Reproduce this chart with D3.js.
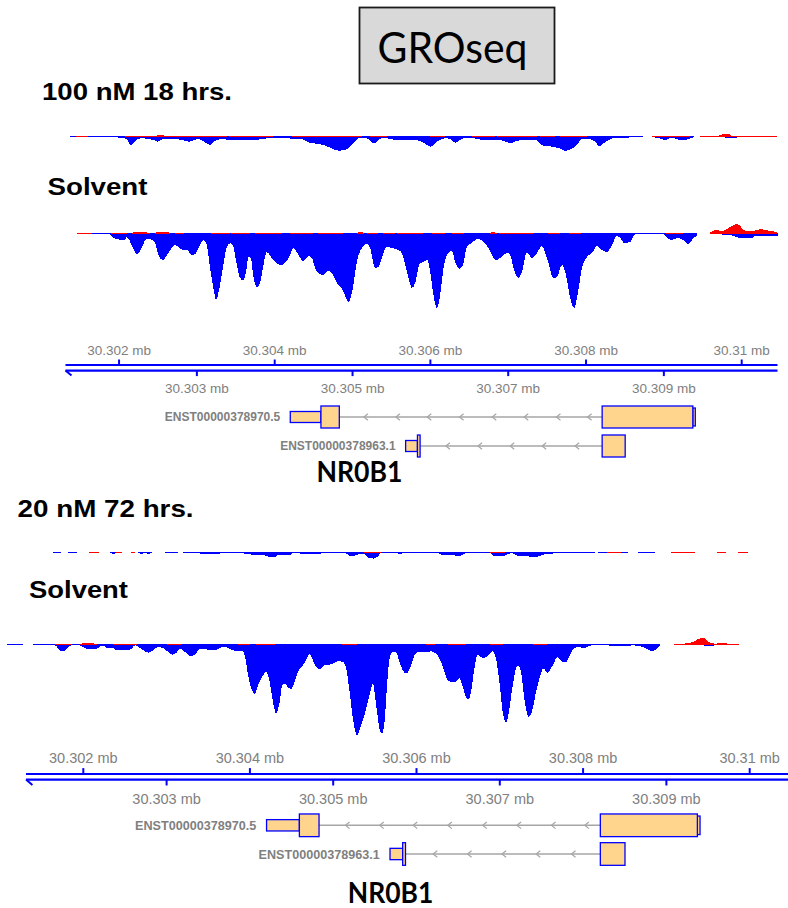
<!DOCTYPE html>
<html>
<head>
<meta charset="utf-8">
<script src="https://cdn.jsdelivr.net/npm/d3@7"></script>
<style>
  html, body { margin: 0; padding: 0; background: #fff; }
  svg { display: block; }
</style>
</head>
<body>
<svg id="fig" width="788" height="908"></svg>
<script>
// Positions are kb offsets from chrX:30,300,000 (30.3 Mb); signals are strand coverage.
const ORIGIN_MB = 30.3;
const axisDomain = [1.312, 10.46];
const ticksAbove = [2, 4, 6, 8, 10];
const ticksBelow = [3, 5, 7, 9];
const tickLabelsAbove = ["30.302 mb", "30.304 mb", "30.306 mb", "30.308 mb", "30.31 mb"];
const tickLabelsBelow = ["30.303 mb", "30.305 mb", "30.307 mb", "30.309 mb"];

// NR0B1 transcripts
const txIds = ["ENST00000378970.5", "ENST00000378963.1"];
const txUTR = [[[4.20, 4.594]], [[5.682, 5.834]]];
const txCDS = [[[4.594, 4.83], [8.207, 9.372]], [[5.834, 5.868], [8.207, 8.503]]];
const txEnd5 = [[[9.372, 9.404]], []];
const txArrows = [[5.147, 5.558, 5.96, 6.375, 6.795, 7.206, 7.62, 8.02],
                  [6.20, 6.612, 7.026, 7.436, 7.86]];

// ---- 100 nM 18 hrs. ----
const treat100Minus = [
  [1.373,0.7],[1.689,0.7],[1.928,1.3],[2.05,2],[2.10,3],[2.15,9.5],[2.22,4],[2.29,2.3],[2.40,3.3],
  [2.46,4.5],[2.50,5.7],[2.55,3.5],[2.62,2.5],[2.73,3.3],[2.82,4],[2.90,5.7],[2.97,4],[3.03,3],
  [3.10,6],[3.17,9],[3.24,4.5],[3.33,3],[3.45,4.3],[3.55,4.3],[3.62,3.5],[3.80,3.5],[3.90,2.3],
  [3.99,2],[4.20,2.5],[4.35,3],[4.45,7],[4.58,8],[4.70,11.3],[4.82,14.7],[4.94,13],[5.00,8],
  [5.08,2.3],[5.18,2.5],[5.28,7.3],[5.36,2.5],[5.42,2],[5.55,4],[5.80,4],[5.90,6],[6.00,10.7],
  [6.08,6],[6.19,2.3],[6.25,3],[6.32,6.7],[6.40,3],[6.50,1.5],[6.60,3],[6.70,4],[6.85,4],[6.95,5],
  [7.03,7.3],[7.10,5],[7.21,4],[7.35,4],[7.45,9.7],[7.57,10.7],[7.68,13],[7.73,14.7],[7.80,13.5],
  [7.87,10],[7.95,3],[8.05,3],[8.12,6],[8.17,10],[8.25,6],[8.34,2.5],[8.40,2],[8.55,1.5],[8.73,1],
  [8.74,null],
  [8.85,1],[8.95,2.5],[9.02,4],[9.10,1.5],[9.18,3.5],[9.24,4],[9.32,3],[9.387,1],
  [9.39,null],
  [9.78,0.3],[9.80,2.3],[9.93,2.3],[9.95,0.3]
];
const treat100Plus = [
  [1.447,1],[1.602,1],[1.61,null],
  [2.077,1],[2.48,1],[2.50,2.3],[2.56,2.3],[2.58,1],[3.388,1],[3.39,null],
  [3.414,1],[3.979,1],[3.98,null],
  [4.224,1],[5.123,1],[5.13,null],
  [5.226,1],[5.445,1],[5.45,null],
  [5.997,1],[6.190,1],[6.20,null],
  [6.537,1],[6.833,1],[6.84,null],
  [6.859,1],[7.373,1],[7.38,null],
  [7.411,1],[7.604,1],[7.61,null],
  [7.668,1],[8.015,1],[8.02,null],
  [8.85,1],[9.339,1],[9.34,null],
  [9.46,1],[9.70,1],[9.75,2.7],[9.84,2.7],[9.88,1],[10.458,1]
];

// ---- Solvent (upper panel) ----
const solventAMinus = [
  [1.649,1],[1.884,1.5],[1.927,5],[2.077,7],[2.099,4],[2.163,12],[2.227,21],[2.291,15],[2.347,6],
  [2.398,6],[2.463,10],[2.506,22],[2.561,27],[2.634,20],[2.720,12],[2.763,14],[2.827,17],[2.870,17],
  [2.934,22],[2.977,21],[3.020,15],[3.084,7],[3.127,12],[3.170,35],[3.212,55],[3.247,67],[3.290,55],
  [3.341,32],[3.384,14],[3.436,10],[3.470,14],[3.513,32],[3.555,45],[3.590,47],[3.632,39],[3.662,24],
  [3.693,25],[3.727,44],[3.770,54],[3.812,50],[3.855,32],[3.898,19],[3.962,25],[4.005,29],[4.069,32],
  [4.134,30],[4.198,22],[4.241,15],[4.305,22],[4.369,28],[4.433,23],[4.477,25],[4.519,35],[4.562,40],
  [4.626,42],[4.690,38],[4.734,40],[4.798,50],[4.875,57],[4.948,69],[5.004,55],[5.055,29],[5.098,18],
  [5.184,11],[5.226,15],[5.290,35],[5.333,34],[5.397,20],[5.441,14],[5.505,15],[5.612,18],[5.654,25],
  [5.719,45],[5.762,55],[5.805,50],[5.860,31],[5.912,29],[5.960,27],[5.997,39],[6.040,62],[6.083,75],
  [6.126,62],[6.169,35],[6.233,20],[6.276,18],[6.319,29],[6.374,36],[6.418,32],[6.469,14],[6.512,11],
  [6.618,6],[6.683,9],[6.747,15],[6.790,22],[6.846,27],[6.897,25],[6.983,20],[7.026,22],[7.068,35],
  [7.133,45],[7.176,39],[7.240,19],[7.304,25],[7.369,20],[7.433,13],[7.497,25],[7.583,45],[7.626,44],
  [7.690,32],[7.733,39],[7.797,65],[7.848,75],[7.891,62],[7.947,35],[8.011,24],[8.076,20],[8.140,13],
  [8.204,17],[8.269,19],[8.333,12],[8.397,3],[8.440,5],[8.491,10],[8.568,9],[8.632,1],[8.868,1],
  [8.997,1],[9.040,5],[9.104,7],[9.168,5],[9.253,7],[9.318,11],[9.382,5],[9.425,3],
  [9.43,null],
  [9.596,0.6],[9.740,0.6],[9.76,2.3],[9.86,2.3],[9.90,3],[9.98,5],[10.14,5],[10.17,3],[10.46,3]
];
const solventAPlus = [
  [1.464,1],[1.648,1],[1.65,null],
  [1.898,1],[2.10,1],[2.11,null],
  [2.16,1],[2.20,2],[2.24,2.5],[2.30,2],[2.40,1],[2.41,null],
  [2.46,1],[2.50,2.3],[2.62,2.3],[2.65,1],[2.66,null],
  [2.72,1.3],[2.83,1.3],[2.84,null],
  [3.18,1],[3.42,1],[3.43,null],
  [3.44,1],[3.68,1],[3.69,null],
  [3.75,1],[4.10,1],[4.11,null],
  [4.20,1],[4.49,1],[4.50,null],
  [4.55,1],[4.88,1],[4.89,null],
  [5.06,1],[5.10,2],[5.15,1],[5.16,null],
  [5.18,1],[5.33,1],[5.34,null],
  [5.39,1],[5.54,1],[5.55,null],
  [5.57,1],[5.90,1],[5.91,null],
  [6.02,1],[6.19,1],[6.20,null],
  [6.28,1],[6.43,1],[6.44,null],
  [6.76,1],[6.80,1.8],[6.85,1],[6.86,null],
  [6.88,1],[7.33,1],[7.34,null],
  [7.51,1],[7.66,1],[7.67,null],
  [7.78,1],[7.93,1],[7.94,null],
  [9.03,1],[9.24,1],[9.25,null],
  [9.596,1.5],[9.661,4],[9.747,3],[9.811,5],[9.875,8],[9.940,10],[10.004,6],[10.047,3],[10.153,3],
  [10.239,5],[10.303,4],[10.368,3],[10.454,2]
];

// ---- 20 nM 72 hrs. ----
const treat20Minus = [
  [1.634,1],[1.737,1],[1.74,null],
  [1.822,1],[1.926,1],[1.93,null],
  [2.068,0.7],[2.183,0.7],[2.19,null],
  [2.326,1],[2.35,1.7],[2.38,1.7],[2.40,1],[2.464,1],[2.47,null],
  [2.652,1],[2.70,1.7],[2.74,1],[2.78,1.7],[2.824,1],[2.83,null],
  [2.978,1],[3.139,1],[3.14,null],
  [3.196,1],[3.339,1],[3.425,1.7],[3.596,1.7],[3.740,1],[3.883,1],[3.95,1.7],[3.997,2],[4.025,3],
  [4.168,3],[4.197,4],[4.254,5],[4.312,4.5],[4.339,3],[4.40,3.3],[4.483,3],[4.512,1],[4.54,1.3],
  [4.712,1.7],[4.826,1.7],[4.912,1],[5.14,1],[5.20,3.7],[5.255,3.7],[5.31,2.3],[5.369,1.5],
  [5.427,6],[5.484,6.5],[5.541,4],[5.57,1],[5.713,1],[5.80,1.7],[5.913,1],[6.256,1],[6.30,3],
  [6.342,2.7],[6.40,3],[6.457,3.5],[6.513,4.3],[6.56,2.5],[6.60,1],[6.886,1],[6.915,3.7],[7.0,3.7],
  [7.058,3.5],[7.143,1],[7.172,2],[7.21,3.5],[7.258,4.3],[7.35,4.5],[7.429,5],[7.50,3.5],[7.543,2],
  [7.60,1.7],[7.70,1.3],[7.772,1],[8.144,1],[8.15,null],
  [8.173,1],[8.545,1],[8.55,null],
  [8.659,1],[8.860,1]
];
const treat20Plus = [
  [2.068,1],[2.183,1],[2.19,null],
  [2.394,1],[2.464,1],[2.47,null],
  [2.578,1],[2.623,1],[2.63,null],
  [5.369,1],[5.57,1],[5.58,null],
  [6.886,1],[7.058,1],[7.06,null],
  [8.287,1],[8.459,1],[8.46,null],
  [9.060,1],[9.116,1.5],[9.174,1.5],[9.230,1],[9.345,1],[9.35,null],
  [9.603,1],[9.717,1],[9.72,null],
  [9.860,1],[9.975,1]
];

// ---- Solvent (lower panel) ----
const solventBMinus = [
  [1.088,1],[1.272,1],[1.28,null],
  [1.400,1],[1.659,1.3],[1.719,6.3],[1.759,7.3],[1.799,5.3],[1.839,2],[1.879,1.3],[1.959,1.3],
  [1.999,3],[2.039,4.7],[2.159,4.7],[2.199,2.7],[2.239,1.3],[2.279,4],[2.359,4],[2.399,6.3],
  [2.519,6.3],[2.579,4.7],[2.619,1.3],[2.659,2.7],[2.719,6.3],[2.779,8.7],[2.839,6.3],[2.898,3],
  [2.958,4],[3.018,8],[3.066,10.7],[3.118,8.7],[3.158,4.7],[3.198,6.3],[3.258,10.7],[3.298,12.3],
  [3.358,8.7],[3.398,4.7],[3.458,4.7],[3.518,6.3],[3.578,6.3],[3.638,4],[3.698,3],[3.758,4.7],
  [3.838,7.3],[3.918,7.3],[3.938,11.3],[3.978,31.3],[4.018,44.7],[4.058,50.3],[4.098,41.3],
  [4.137,34.7],[4.197,28],[4.237,38],[4.277,58],[4.317,69.7],[4.357,58],[4.389,41.3],[4.429,39.7],
  [4.457,44],[4.497,44.7],[4.537,38],[4.577,28],[4.637,21.3],[4.677,15.3],[4.717,9.7],[4.757,16.3],
  [4.797,23],[4.837,25.3],[4.897,21.3],[4.977,20.3],[5.057,17.3],[5.117,18],[5.157,24.7],[5.197,48],
  [5.237,74.7],[5.285,91.3],[5.336,81.3],[5.396,64.7],[5.436,51.3],[5.476,39.7],[5.516,61.3],
  [5.556,84.7],[5.584,89.7],[5.616,78],[5.644,44.7],[5.676,14.7],[5.716,8],[5.756,8.7],[5.796,18],
  [5.836,26.3],[5.876,29.7],[5.936,21.3],[5.976,11.3],[6.016,8],[6.116,8],[6.176,7.3],[6.236,9.7],
  [6.296,18],[6.336,28],[6.376,36.3],[6.435,38],[6.483,37.3],[6.515,34],[6.555,43],[6.595,53],
  [6.623,55.3],[6.655,48],[6.695,24.7],[6.735,10.7],[6.795,14],[6.843,13],[6.875,9.7],[6.915,7.3],
  [6.955,14.7],[6.995,38],[7.035,68],[7.075,78.7],[7.115,64.7],[7.155,41.3],[7.215,21.3],[7.255,28],
  [7.295,54.7],[7.347,73],[7.395,64.7],[7.435,48],[7.475,34.7],[7.523,24.7],[7.575,28.7],[7.635,21.3],
  [7.694,13],[7.754,18],[7.794,18],[7.834,12],[7.874,6.3],[7.934,3],[8.014,4],[8.074,2],[8.134,0.7],
  [8.274,1.3],[8.514,2.3],[8.594,1.3],[8.714,3],[8.794,6.3],[8.834,7.3],[8.874,5.3],[8.922,1.5],
  [8.93,null],
  [9.453,2.3],[9.573,2.3]
];
const solventBPlus = [
  [1.66,1],[1.86,1],[1.87,null],
  [1.96,1],[2.00,1.7],[2.10,1.7],[2.16,1],[2.17,null],
  [2.36,1],[2.64,1],[2.65,null],
  [3.00,1],[3.19,1],[3.20,null],
  [3.86,1],[4.00,1],[4.01,null],
  [4.07,1],[4.30,1],[4.31,null],
  [5.10,1],[5.28,1],[5.29,null],
  [6.11,1],[6.17,1.5],[6.22,1],[6.23,null],
  [6.38,1],[6.60,1],[6.61,null],
  [6.88,1],[7.04,1],[7.05,null],
  [7.40,1],[7.57,1],[7.58,null],
  [9.093,1],[9.193,1.3],[9.273,2],[9.333,3.7],[9.393,6.3],[9.433,7],[9.473,6],[9.513,2.7],
  [9.593,1.3],[9.633,2],[9.693,2],[9.753,1],[9.873,1]
];

const BLUE = "#0000ff", RED = "#ff0000", GREY = "#808080";
const EXON_FILL = "#ffd48c", INTRON = "#a6a6a6";
const svg = d3.select("#fig");

// Minus strand hangs below the baseline; plus strand is drawn over it and
// sits on the baseline row, so a thin plus signal reads as a red line.
function drawSignal(g, x, base, minus, plus) {
  const h = d3.scaleLinear().domain([0, 100]).range([0, 100]);
  const minusArea = d3.area()
    .defined(d => d[1] !== null)
    .x(d => x(d[0])).y0(base).y1(d => base + h(d[1]))
    .curve(d3.curveMonotoneX);
  const plusArea = d3.area()
    .defined(d => d[1] !== null)
    .x(d => x(d[0])).y0(base + 1).y1(d => base + 1 - h(d[1]))
    .curve(d3.curveMonotoneX);
  g.append("path").attr("d", minusArea(minus)).attr("fill", BLUE).attr("shape-rendering", "crispEdges");
  g.append("path").attr("d", plusArea(plus)).attr("fill", RED).attr("shape-rendering", "crispEdges");
}

function drawAxis(g, x, yU, yL, s, fs) {
  const [a, b] = x.range();
  [yU, yL].forEach(y => g.append("line")
    .attr("x1", a).attr("x2", b).attr("y1", y).attr("y2", y)
    .attr("stroke", BLUE).attr("stroke-width", 2.2));
  g.append("path").attr("d", `M${a + 6 * s},${yL + 5 * s}L${a},${yL}`)
    .attr("stroke", BLUE).attr("stroke-width", 2).attr("fill", "none");
  ticksAbove.forEach((t, i) => {
    g.append("line").attr("x1", x(t)).attr("x2", x(t)).attr("y1", yU - 5.5 * s).attr("y2", yU)
      .attr("stroke", BLUE).attr("stroke-width", 2);
    g.append("text").attr("x", x(t)).attr("y", yU - 10 * s).attr("text-anchor", "middle")
      .attr("font-family", "Liberation Sans, Arial, sans-serif").attr("font-size", fs)
      .attr("fill", GREY).text(tickLabelsAbove[i]);
  });
  ticksBelow.forEach((t, i) => {
    g.append("line").attr("x1", x(t)).attr("x2", x(t)).attr("y1", yL).attr("y2", yL + 5.5 * s)
      .attr("stroke", BLUE).attr("stroke-width", 2);
    g.append("text").attr("x", x(t)).attr("y", yL + 22.5 * s).attr("text-anchor", "middle")
      .attr("font-family", "Liberation Sans, Arial, sans-serif").attr("font-size", fs)
      .attr("fill", GREY).text(tickLabelsBelow[i]);
  });
}

function drawGenes(g, x, rows, s, fs) {
  txIds.forEach((id, i) => {
    const cy = rows[i];
    const tall = 22 * s, short = 11 * s, edge = 18 * s;
    const blocks = txUTR[i].map(e => ({ e, hgt: short }))
      .concat(txEnd5[i].map(e => ({ e, hgt: edge })))
      .concat(txCDS[i].map(e => ({ e, hgt: tall })))
      .sort((p, q) => p.e[0] - q.e[0]);
    // introns between consecutive blocks
    for (let k = 0; k < blocks.length - 1; k++) {
      const end = blocks[k].e[1], next = blocks[k + 1].e[0];
      if (next > end) {
        g.append("line").attr("x1", x(end)).attr("x2", x(next)).attr("y1", cy).attr("y2", cy)
          .attr("stroke", INTRON).attr("stroke-width", 1.4);
      }
    }
    txArrows[i].forEach(p => {
      const ax = x(p);
      g.append("path").attr("d", `M${ax + 4 * s},${cy - 3.2 * s}L${ax},${cy}L${ax + 4 * s},${cy + 3.2 * s}`)
        .attr("stroke", INTRON).attr("stroke-width", 1.2).attr("fill", "none");
    });
    // thinner blocks first so coding blocks sit on top
    blocks.slice().sort((p, q) => p.hgt - q.hgt).forEach(bk => {
      g.append("rect").attr("x", x(bk.e[0])).attr("y", cy - bk.hgt / 2)
        .attr("width", x(bk.e[1]) - x(bk.e[0])).attr("height", bk.hgt)
        .attr("fill", EXON_FILL).attr("stroke", BLUE).attr("stroke-width", 1.3);
    });
    const lo = d3.min(blocks, bk => bk.e[0]);
    g.append("text").attr("x", x(lo) - 10 * s).attr("y", cy + fs * 0.36)
      .attr("text-anchor", "end").attr("font-family", "Liberation Sans, Arial, sans-serif")
      .attr("font-weight", "bold").attr("font-size", fs).attr("fill", GREY).text(id);
  });
}

function label(txt, x, y, len, size) {
  svg.append("text").attr("x", x).attr("y", y)
    .attr("font-family", "Liberation Sans, Arial, sans-serif").attr("font-weight", "bold")
    .attr("font-size", size).attr("fill", "#000")
    .attr("textLength", len).attr("lengthAdjust", "spacingAndGlyphs").text(txt);
}

function geneName(cx, y, len) {
  svg.append("text").attr("x", cx - len / 2).attr("y", y)
    .attr("font-family", "Lato, 'Open Sans', sans-serif").attr("font-weight", "bold")
    .attr("font-size", 29).attr("fill", "#000")
    .attr("textLength", len).attr("lengthAdjust", "spacingAndGlyphs").text("NR0B1");
}

// Title box
svg.append("rect").attr("x", 359.5).attr("y", 7.5).attr("width", 195).attr("height", 76)
  .attr("fill", "#d9d9d9").attr("stroke", "#1a1a1a").attr("stroke-width", 1.8);
svg.append("text").attr("x", 377.5).attr("y", 63)
  .attr("font-family", "Lato, 'Open Sans', sans-serif").attr("font-size", 43).attr("fill", "#000")
  .attr("textLength", 150).attr("lengthAdjust", "spacingAndGlyphs").text("GROseq");

// ---------- Upper panel ----------
const xTop = d3.scaleLinear().domain(axisDomain).range([65.5, 777.5]);
const gTop = svg.append("g");
label("100 nM 18 hrs.", 42, 100, 190, 24.5);
label("Solvent", 47.5, 195, 100, 24.5);
drawSignal(gTop, xTop, 136, treat100Minus, treat100Plus);
drawSignal(gTop, xTop, 233, solventAMinus, solventAPlus);
drawAxis(gTop, xTop, 365, 370.6, 1, 13.5);
drawGenes(gTop, xTop, [417, 446], 1, 12);
geneName(359.5, 482, 86);

// ---------- Lower panel ----------
const xBot = d3.scaleLinear().domain(axisDomain).range([26, 788]);
const gBot = svg.append("g");
label("20 nM 72 hrs.", 17.6, 517, 176, 24.5);
label("Solvent", 29, 598, 99, 24.5);
drawSignal(gBot, xBot, 552, treat20Minus, treat20Plus);
drawSignal(gBot, xBot, 644, solventBMinus, solventBPlus);
drawAxis(gBot, xBot, 774, 779.6, 1.072, 14.5);
drawGenes(gBot, xBot, [825.3, 854], 1.03, 12.6);
geneName(390.5, 903, 85.5);
</script>
</body>
</html>
